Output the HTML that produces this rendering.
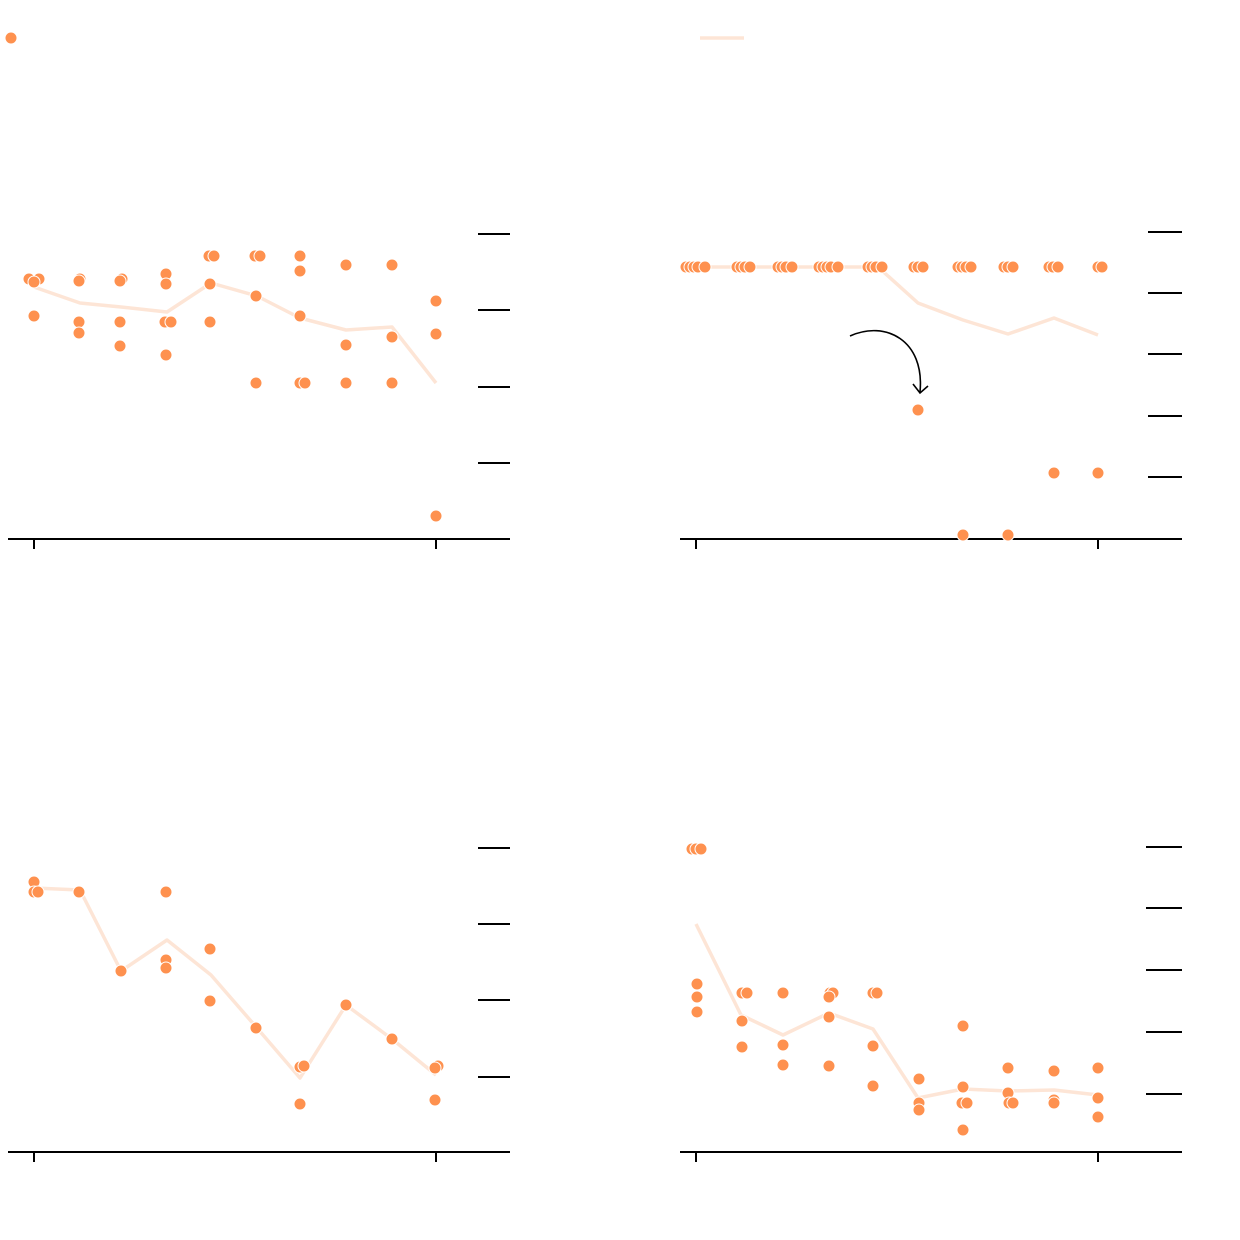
<!DOCTYPE html>
<html><head><meta charset="utf-8"><style>html,body{margin:0;padding:0;background:#fff}svg{display:block}</style></head><body>
<svg width="1240" height="1240" viewBox="0 0 1240 1240" xmlns="http://www.w3.org/2000/svg">
<g stroke="#000" stroke-width="2" fill="none">
<line x1="8" y1="539" x2="510" y2="539"/><line x1="34" y1="539" x2="34" y2="549"/><line x1="436" y1="539" x2="436" y2="549"/>
<line x1="478" y1="234" x2="510" y2="234"/><line x1="478" y1="310" x2="510" y2="310"/><line x1="478" y1="387" x2="510" y2="387"/><line x1="478" y1="463" x2="510" y2="463"/>
<line x1="680" y1="539" x2="1182" y2="539"/><line x1="696" y1="539" x2="696" y2="549"/><line x1="1098" y1="539" x2="1098" y2="549"/>
<line x1="1148" y1="232" x2="1182" y2="232"/><line x1="1148" y1="293" x2="1182" y2="293"/><line x1="1148" y1="354" x2="1182" y2="354"/><line x1="1148" y1="416" x2="1182" y2="416"/><line x1="1148" y1="477" x2="1182" y2="477"/>
<line x1="8" y1="1152" x2="510" y2="1152"/><line x1="34" y1="1152" x2="34" y2="1162"/><line x1="436" y1="1152" x2="436" y2="1162"/>
<line x1="478" y1="848" x2="510" y2="848"/><line x1="478" y1="924" x2="510" y2="924"/><line x1="478" y1="1000" x2="510" y2="1000"/><line x1="478" y1="1077" x2="510" y2="1077"/>
<line x1="680" y1="1152" x2="1182" y2="1152"/><line x1="696" y1="1152" x2="696" y2="1162"/><line x1="1098" y1="1152" x2="1098" y2="1162"/>
<line x1="1146" y1="847" x2="1182" y2="847"/><line x1="1146" y1="908" x2="1182" y2="908"/><line x1="1146" y1="970" x2="1182" y2="970"/><line x1="1146" y1="1032" x2="1182" y2="1032"/><line x1="1146" y1="1094" x2="1182" y2="1094"/>
<path d="M850,336 C885,320 925,340 920,392" stroke-width="1.6"/>
<path d="M913,384 L920,393 L928,386" stroke-width="1.6"/>
</g>
<g stroke="#fde5d6" stroke-width="3.5" fill="none" stroke-linejoin="round">
<line x1="700" y1="38" x2="744" y2="38"/>
<polyline points="34,287 80,303 121,307 167,312 211,283 257,296 300,318 346,330 392,327 436,383"/>
<polyline points="686,267 878,267 918,303 963,320 1008,334 1054,318 1098,335"/>
<polyline points="34,888 80,890 121,971 167,940 211,975 257,1028 300,1078 346,1005 392,1039 436,1075"/>
<polyline points="696,924 741,1015 783,1035 829,1013 873,1029 918,1098 963,1089 1008,1091 1054,1090 1098,1095"/>
</g>
<g fill="#fe914f" stroke="#fff" stroke-width="1">
<circle cx="11" cy="38" r="6"/>
<circle cx="29" cy="279" r="6"/><circle cx="39" cy="279" r="6"/><circle cx="34" cy="282" r="6"/><circle cx="34" cy="316" r="6"/>
<circle cx="80" cy="279" r="6"/><circle cx="79" cy="281" r="6"/><circle cx="79" cy="322" r="6"/><circle cx="79" cy="333" r="6"/>
<circle cx="122" cy="279" r="6"/><circle cx="120" cy="281" r="6"/><circle cx="120" cy="322" r="6"/><circle cx="120" cy="346" r="6"/>
<circle cx="166" cy="274" r="6"/><circle cx="166" cy="284" r="6"/><circle cx="165" cy="322" r="6"/><circle cx="171" cy="322" r="6"/><circle cx="166" cy="355" r="6"/>
<circle cx="209" cy="256" r="6"/><circle cx="214" cy="256" r="6"/><circle cx="210" cy="284" r="6"/><circle cx="210" cy="322" r="6"/>
<circle cx="255" cy="256" r="6"/><circle cx="260" cy="256" r="6"/><circle cx="256" cy="296" r="6"/><circle cx="256" cy="383" r="6"/>
<circle cx="300" cy="256" r="6"/><circle cx="300" cy="271" r="6"/><circle cx="300" cy="316" r="6"/><circle cx="300" cy="383" r="6"/><circle cx="305" cy="383" r="6"/>
<circle cx="346" cy="265" r="6"/><circle cx="346" cy="345" r="6"/><circle cx="346" cy="383" r="6"/>
<circle cx="392" cy="265" r="6"/><circle cx="392" cy="337" r="6"/><circle cx="392" cy="383" r="6"/>
<circle cx="436" cy="301" r="6"/><circle cx="436" cy="334" r="6"/><circle cx="436" cy="516" r="6"/>
<circle cx="686" cy="267" r="6"/><circle cx="690" cy="267" r="6"/><circle cx="694" cy="267" r="6"/><circle cx="698" cy="267" r="6"/><circle cx="705" cy="267" r="6"/>
<circle cx="737" cy="267" r="6"/><circle cx="741" cy="267" r="6"/><circle cx="745" cy="267" r="6"/><circle cx="750" cy="267" r="6"/>
<circle cx="778" cy="267" r="6"/><circle cx="782" cy="267" r="6"/><circle cx="786" cy="267" r="6"/><circle cx="792" cy="267" r="6"/>
<circle cx="819" cy="267" r="6"/><circle cx="823" cy="267" r="6"/><circle cx="827" cy="267" r="6"/><circle cx="831" cy="267" r="6"/><circle cx="838" cy="267" r="6"/>
<circle cx="868" cy="267" r="6"/><circle cx="872" cy="267" r="6"/><circle cx="876" cy="267" r="6"/><circle cx="882" cy="267" r="6"/>
<circle cx="914" cy="267" r="6"/><circle cx="918" cy="267" r="6"/><circle cx="923" cy="267" r="6"/>
<circle cx="958" cy="267" r="6"/><circle cx="962" cy="267" r="6"/><circle cx="966" cy="267" r="6"/><circle cx="971" cy="267" r="6"/>
<circle cx="1004" cy="267" r="6"/><circle cx="1008" cy="267" r="6"/><circle cx="1013" cy="267" r="6"/>
<circle cx="1049" cy="267" r="6"/><circle cx="1053" cy="267" r="6"/><circle cx="1058" cy="267" r="6"/>
<circle cx="1098" cy="267" r="6"/><circle cx="1102" cy="267" r="6"/>
<circle cx="918" cy="410" r="6"/><circle cx="1054" cy="473" r="6"/><circle cx="1098" cy="473" r="6"/><circle cx="963" cy="535" r="6"/><circle cx="1008" cy="535" r="6"/>
<circle cx="34" cy="882" r="6"/><circle cx="34" cy="892" r="6"/><circle cx="38" cy="892" r="6"/><circle cx="79" cy="892" r="6"/><circle cx="121" cy="971" r="6"/>
<circle cx="166" cy="892" r="6"/><circle cx="166" cy="960" r="6"/><circle cx="166" cy="968" r="6"/><circle cx="210" cy="949" r="6"/><circle cx="210" cy="1001" r="6"/>
<circle cx="256" cy="1028" r="6"/><circle cx="300" cy="1067" r="6"/><circle cx="304" cy="1066" r="6"/><circle cx="300" cy="1104" r="6"/><circle cx="346" cy="1005" r="6"/>
<circle cx="392" cy="1039" r="6"/><circle cx="438" cy="1066" r="6"/><circle cx="435" cy="1068" r="6"/><circle cx="435" cy="1100" r="6"/>
<circle cx="692" cy="849" r="6"/><circle cx="696" cy="849" r="6"/><circle cx="701" cy="849" r="6"/>
<circle cx="697" cy="984" r="6"/><circle cx="697" cy="997" r="6"/><circle cx="697" cy="1012" r="6"/>
<circle cx="742" cy="993" r="6"/><circle cx="747" cy="993" r="6"/><circle cx="742" cy="1021" r="6"/><circle cx="742" cy="1047" r="6"/>
<circle cx="783" cy="993" r="6"/><circle cx="783" cy="1045" r="6"/><circle cx="783" cy="1065" r="6"/>
<circle cx="830" cy="993" r="6"/><circle cx="833" cy="993" r="6"/><circle cx="829" cy="997" r="6"/><circle cx="829" cy="1017" r="6"/><circle cx="829" cy="1066" r="6"/>
<circle cx="873" cy="993" r="6"/><circle cx="877" cy="993" r="6"/><circle cx="873" cy="1046" r="6"/><circle cx="873" cy="1086" r="6"/>
<circle cx="919" cy="1079" r="6"/><circle cx="919" cy="1103" r="6"/><circle cx="919" cy="1110" r="6"/>
<circle cx="963" cy="1026" r="6"/><circle cx="963" cy="1087" r="6"/><circle cx="962" cy="1103" r="6"/><circle cx="967" cy="1103" r="6"/><circle cx="963" cy="1130" r="6"/>
<circle cx="1008" cy="1068" r="6"/><circle cx="1008" cy="1093" r="6"/><circle cx="1009" cy="1103" r="6"/><circle cx="1013" cy="1103" r="6"/>
<circle cx="1054" cy="1071" r="6"/><circle cx="1054" cy="1100" r="6"/><circle cx="1054" cy="1103" r="6"/>
<circle cx="1098" cy="1068" r="6"/><circle cx="1098" cy="1098" r="6"/><circle cx="1098" cy="1117" r="6"/>
</g>
</svg>
</body></html>
